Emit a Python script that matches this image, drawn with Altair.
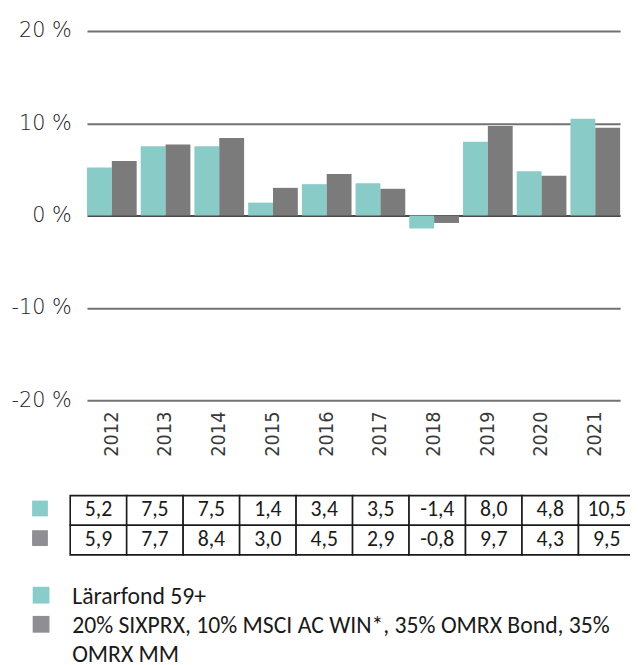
import altair as alt
import pandas as pd

# ---- data ----
years = ["2012", "2013", "2014", "2015", "2016", "2017", "2018", "2019", "2020", "2021"]
series_keys = ["fund", "bench"]
fund = [5.2, 7.5, 7.5, 1.4, 3.4, 3.5, -1.4, 8.0, 4.8, 10.5]
bench = [5.9, 7.7, 8.4, 3.0, 4.5, 2.9, -0.8, 9.7, 4.3, 9.5]
legend_lines = [
    "Lärarfond 59+",
    "20% SIXPRX, 10% MSCI AC WIN*, 35% OMRX Bond, 35%",
    "OMRX MM",
]
legend_keys = ["fund", "bench"]
y_ticks = [-20, -10, 0, 10, 20]

# ---- styles ----
bar_colors = ["#89cbc6", "#7b7b7b"]
key_colors = ["#88cdc9", "#8e8e93"]
axis_font = "DejaVu Sans"
year_font = "Liberation Sans Narrow, DejaVu Sans Condensed, Roboto"
table_font = "Carlito, Lato"
text_color = "#1a1a1a"

df = pd.DataFrame({
    "year": years * 2,
    "series": ["fund"] * len(years) + ["bench"] * len(years),
    "value": fund + bench,
})
df["label"] = df["value"].map(lambda v: f"{v:.1f}".replace(".", ","))
df["col"] = df["year"]

bars = alt.Chart(df).mark_bar().encode(
    x=alt.X("year:N", sort=years, title=None,
            scale=alt.Scale(paddingInner=0.075, paddingOuter=0),
            axis=alt.Axis(labelAngle=270, labelAlign="right", labelBaseline="middle",
                          labelFont=year_font, labelFontSize=20, labelColor="#3a3a3a",
                          labelPadding=11, ticks=False, domain=False, grid=False)),
    xOffset=alt.XOffset("series:N", sort=series_keys,
                        scale=alt.Scale(domain=series_keys, paddingInner=0, paddingOuter=0)),
    y=alt.Y("value:Q", title=None,
            scale=alt.Scale(domain=[-20, 20], nice=False, zero=False),
            axis=alt.Axis(values=y_ticks, labelExpr="datum.value + ' %'",
                          labelFont=axis_font, labelFontWeight=200, labelFontSize=21,
                          labelColor="#222222", labelPadding=16, ticks=False, domain=False,
                          grid=True,
                          gridColor=alt.condition("datum.value === 0", alt.value("#4a4a4a"), alt.value("#727272")),
                          gridWidth=2)),
    color=alt.Color("series:N", scale=alt.Scale(domain=series_keys, range=bar_colors), legend=None),
)

# ---- data table ----
cols = [""] + years
tx = alt.X("col:N", scale=alt.Scale(domain=cols, range=[-74.2, 555], paddingInner=0, paddingOuter=0), axis=None)
ty = alt.Y("series:N", scale=alt.Scale(domain=series_keys, range=[470.7, 530.7], paddingInner=0, paddingOuter=0), axis=None)

cells = alt.Chart(df).mark_rect(fill="white", stroke=text_color, strokeWidth=1.6).encode(x=tx, y=ty)
cell_text = alt.Chart(df).mark_text(font=table_font, fontSize=22, color=text_color, baseline="alphabetic", dy=5.5).encode(
    x=tx, y=ty, text="label:N")
row_keys = pd.DataFrame({"col": ["", ""], "series": series_keys})
row_squares = alt.Chart(row_keys).mark_square(size=256, opacity=1, filled=True, xOffset=-2, yOffset=-2).encode(
    x=tx, y=ty,
    color=alt.Color("series:N", scale=alt.Scale(domain=series_keys, range=key_colors), legend=None))
table_group = alt.layer(cells, cell_text, row_squares)

# ---- legend ----
sym_df = pd.DataFrame({"part": ["sym"] * len(legend_keys), "line": list(range(len(legend_keys))), "series": legend_keys})
txt_df = pd.DataFrame({"part": ["txt"] * len(legend_lines), "line": list(range(len(legend_lines))), "text": legend_lines})
lx = alt.X("part:N", scale=alt.Scale(type="point", domain=["sym", "txt"], range=[-46.5, -15], padding=0), axis=None)
ly = alt.Y("line:O", scale=alt.Scale(type="point", domain=[0, 1, 2], range=[580, 639], padding=0), axis=None)
leg_sq = alt.Chart(sym_df).mark_square(size=289, opacity=1, filled=True, yOffset=-8.5).encode(
    x=lx, y=ly,
    color=alt.Color("series:N", scale=alt.Scale(domain=series_keys, range=key_colors), legend=None))
leg_txt = alt.Chart(txt_df).mark_text(font=table_font, fontSize=24, color=text_color, align="left", baseline="alphabetic").encode(
    x=lx, y=ly, text="text:N")
legend_group = alt.layer(leg_sq, leg_txt)

chart = alt.layer(bars, table_group, legend_group).resolve_scale(
    x="independent", y="independent", color="independent"
).properties(
    width=540, height=374,
    background="white",
    autosize=alt.AutoSizeParams(type="none"),
    padding={"left": 80, "top": 19, "right": 10, "bottom": 264},
).configure_view(stroke=None)

chart.save("out.html", embed_options={"renderer": "svg", "actions": False})
